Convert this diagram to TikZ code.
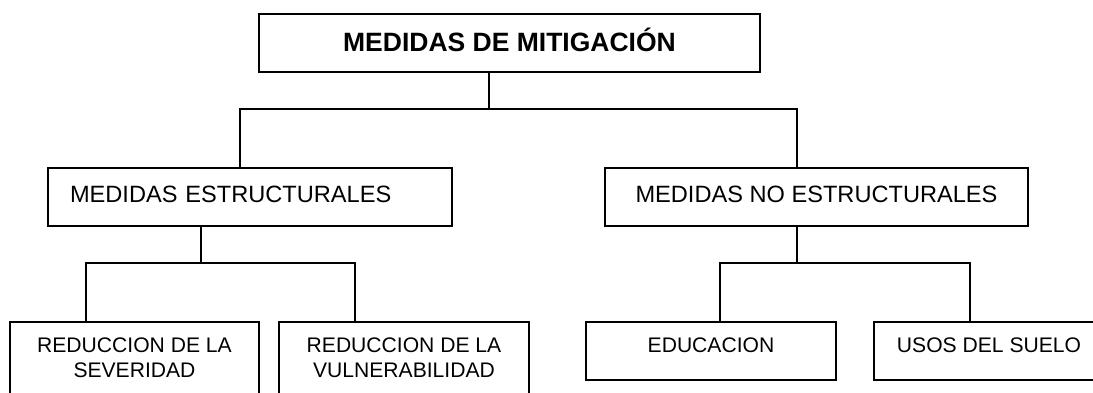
\documentclass[tikz,border=0pt]{standalone}
\usepackage{fontspec}
\setmainfont{Liberation Sans}
\begin{document}
\begin{tikzpicture}[x=1pt,y=-1pt,
  box/.style={draw=black, line width=2pt, rectangle, inner sep=0pt, anchor=north west, align=center},
  conn/.style={draw=black, line width=1.5pt},
  ttl/.style={font=\fontsize{26.5}{31}\selectfont\bfseries},
  mid/.style={font=\fontsize{23.6}{28}\selectfont},
  low/.style={font=\fontsize{21.1}{25}\selectfont}]
\useasboundingbox (0,0) rectangle (1093,392);
\clip (0,0) rectangle (1093,392);
% boxes
\node[box, ttl, minimum width=501pt, minimum height=58pt, text height=19pt, text depth=3pt] (top) at (258,13) {MEDIDAS DE MITIGACIÓN};
\node[box, mid, minimum width=404pt, minimum height=58pt, text width=360pt, inner xsep=22pt, align=left, text height=17pt, text depth=7pt] (ml) at (47,167) {MEDIDAS ESTRUCTURALES};
\node[box, mid, minimum width=423pt, minimum height=58pt, text height=17pt, text depth=7pt] (mr) at (604,167) {MEDIDAS NO ESTRUCTURALES};
\node[box, low, minimum width=249pt, minimum height=80pt, text height=40pt, text depth=10pt] (b1) at (9,321) {\begin{tabular}[b]{@{}c@{}}REDUCCION DE LA\\SEVERIDAD\end{tabular}};
\node[box, low, minimum width=250pt, minimum height=80pt, text height=40pt, text depth=10pt] (b2) at (278,321) {\begin{tabular}[b]{@{}c@{}}REDUCCION DE LA\\VULNERABILIDAD\end{tabular}};
\node[box, low, minimum width=250pt, minimum height=58pt, text height=15pt, text depth=13pt] (b3) at (585,321) {EDUCACION};
\node[box, low, minimum width=230pt, minimum height=58pt, text height=15pt, text depth=13pt] (b4) at (873,321) {USOS DEL SUELO};
% junctions
\coordinate (j0) at (489,109);
\coordinate (jl) at (240,109);
\coordinate (jr) at (797,109);
\coordinate (k1) at (201,263);
\coordinate (k1l) at (86,263);
\coordinate (k1r) at (355,263);
\coordinate (k2) at (797,263);
\coordinate (k2l) at (720,263);
\coordinate (k2r) at (970,263);
% connectors
\draw[conn] (top.south -| j0) -- (j0);
\draw[conn] (ml.north -| jl) -- (jl) -- (jr) -- (mr.north -| jr);
\draw[conn] (ml.south -| k1) -- (k1);
\draw[conn] (b1.north -| k1l) -- (k1l) -- (k1r) -- (b2.north -| k1r);
\draw[conn] (mr.south -| k2) -- (k2);
\draw[conn] (b3.north -| k2l) -- (k2l) -- (k2r) -- (b4.north -| k2r);
\end{tikzpicture}
\end{document}
